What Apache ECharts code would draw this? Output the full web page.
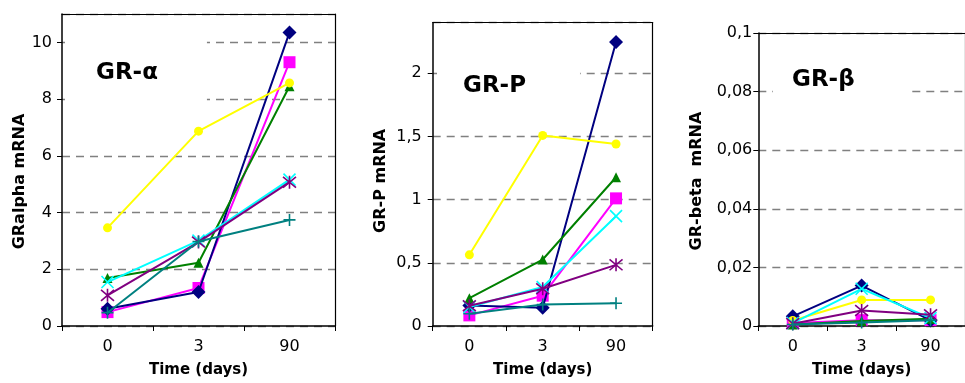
<!DOCTYPE html>
<html>
<head>
<meta charset="utf-8">
<script src="https://cdn.jsdelivr.net/npm/echarts@6/dist/echarts.min.js"></script>
<style>html,body{margin:0;padding:0;background:#fff}#c{width:965px;height:383px}</style>
</head>
<body>
<div id="c"></div>
<script>
// ---- data ----
const categories = ['0', '3', '90'];

// GR-alpha panel
const alphaMagenta = [0.49, 1.34, 9.3];
const alphaNavy    = [0.61, 1.2, 10.35];
const alphaGreen   = [1.69, 2.23, 8.45];
const alphaYellow  = [3.46, 6.87, 8.57];
const alphaCyan    = [1.55, 3.01, 5.16];
const alphaPurple  = [1.08, 2.96, 5.07];
const alphaTeal    = [0.47, 2.98, 3.74];

// GR-P panel
const pMagenta = [0.084, 0.24, 1.01];
const pNavy    = [0.163, 0.145, 2.247];
const pGreen   = [0.22, 0.526, 1.177];
const pYellow  = [0.563, 1.508, 1.44];
const pCyan    = [0.15, 0.308, 0.869];
const pPurple  = [0.16, 0.295, 0.484];
const pTeal    = [0.097, 0.17, 0.18];

// GR-beta panel
const bMagenta = [0.001, 0.002, 0.002];
const bNavy    = [0.0033, 0.0138, 0.0019];
const bGreen   = [0.0005, 0.0017, 0.0025];
const bYellow  = [0.0019, 0.0089, 0.0089];
const bCyan    = [0.001, 0.0127, 0.0027];
const bPurple  = [0.0008, 0.0053, 0.0038];
const bTeal    = [0.0005, 0.0012, 0.002];

const panelTitles = ['GR-α', 'GR-P', 'GR-β'];
const yNames = ['GRalpha mRNA', 'GR-P mRNA', 'GR-beta  mRNA'];
const xName = 'Time (days)';

// ---- styles ----
const FONT = 'DejaVu Sans';
const styles = [
  {color: '#FF00FF', symbol: 'rect', size: 12},
  {color: '#000080', symbol: 'diamond', size: 14},
  {color: '#008000', symbol: 'triangle', size: 10},
  {color: '#FFFF00', symbol: 'circle', size: 9},
  {color: '#00FFFF', symbol: 'path://M0,0L10,10M10,0L0,10', size: 12, stroke: true},
  {color: '#800080', symbol: 'path://M0,0L10,10M10,0L0,10M5,-1L5,11', size: 13, stroke: true},
  {color: '#008080', symbol: 'path://M5,0L5,10M0,5L10,5', size: 12, stroke: true}
];
const panelData = [
  [alphaMagenta, alphaNavy, alphaGreen, alphaYellow, alphaCyan, alphaPurple, alphaTeal],
  [pMagenta, pNavy, pGreen, pYellow, pCyan, pPurple, pTeal],
  [bMagenta, bNavy, bGreen, bYellow, bCyan, bPurple, bTeal]
];

const grids = [
  {left: 62, top: 14, width: 273, height: 313.3},
  {left: 432.7, top: 22.7, width: 220, height: 304.6},
  {left: 758.3, top: 33, width: 219, height: 294.3}
];
const yCfg = [
  {max: 11, interval: 2, showMax: false, margin: 10, nameGap: 34, pad: [0, 23, 0, 0]},
  {max: 2.4, interval: 0.5, showMax: false, margin: 11, nameGap: 44, pad: [0, 13, 0, 0]},
  {max: 0.1, interval: 0.02, showMax: true, margin: 6, nameGap: 53, pad: [0, 3, 0, 0]}
];
const titleBox = [
  {left: 65, top: 35, padding: [27, 49, 23, 31]},
  {left: 437, top: 40, padding: [35, 54, 27, 26]},
  {left: 773, top: 50, padding: [19, 57, 27, 19]}
];

function fmt(v) {
  if (v === 0) return '0';
  return String(Math.round(v * 10000) / 10000).replace('.', ',');
}

const option = {
  animation: false,
  title: panelTitles.map((t, i) => ({
    text: t,
    left: titleBox[i].left,
    top: titleBox[i].top,
    padding: titleBox[i].padding,
    backgroundColor: '#fff',
    textStyle: {fontFamily: FONT, fontWeight: 'bold', fontSize: 23, color: '#000'}
  })),
  grid: grids,
  xAxis: [],
  yAxis: [],
  series: []
};

grids.forEach((g, i) => {
  option.xAxis.push({
    type: 'category', gridIndex: i, data: categories, boundaryGap: true,
    name: xName, nameLocation: 'middle', nameGap: 37,
    nameTextStyle: {fontFamily: FONT, fontWeight: 'bold', fontSize: 15, color: '#000'},
    axisLine: {onZero: false, lineStyle: {color: '#000', width: 1.5}},
    axisTick: {show: true, inside: false, length: 5, lineStyle: {color: '#000', width: 1}},
    axisLabel: {fontFamily: FONT, fontSize: 16, color: '#000', margin: 13},
    splitLine: {show: false},
    z: 1
  });
  // top frame
  option.xAxis.push({
    type: 'category', gridIndex: i, data: categories, position: 'top',
    axisLine: {show: true, onZero: false, lineStyle: {color: '#000', width: 1.2}},
    axisTick: {show: false}, axisLabel: {show: false}, splitLine: {show: false},
    z: 1
  });
  const c = yCfg[i];
  option.yAxis.push({
    type: 'value', gridIndex: i, min: 0, max: c.max, interval: c.interval,
    name: yNames[i], nameLocation: 'middle', nameGap: c.nameGap, nameRotate: 90,
    nameTextStyle: {fontFamily: FONT, fontWeight: 'bold', fontSize: 16, color: '#000', padding: c.pad},
    axisLine: {show: true, onZero: false, lineStyle: {color: '#000', width: 1.5}},
    axisTick: {show: true, inside: false, length: 5, lineStyle: {color: '#000', width: 1}},
    axisLabel: {fontFamily: FONT, fontSize: 16, color: '#000', margin: c.margin,
      showMaxLabel: c.showMax, formatter: fmt},
    splitLine: {show: true, lineStyle: {color: '#808080', width: 1.4, type: [8, 6]}}
  });
  // right frame
  option.yAxis.push({
    type: 'value', gridIndex: i, min: 0, max: c.max, position: 'right',
    axisLine: {show: true, onZero: false, lineStyle: {color: '#000', width: 1.2}},
    axisTick: {show: false}, axisLabel: {show: false}, splitLine: {show: false},
    z: 1
  });
  panelData[i].forEach((arr, k) => {
    const s = styles[k];
    option.series.push({
      type: 'line', xAxisIndex: i * 2, yAxisIndex: i * 2, data: arr,
      symbol: s.symbol, symbolSize: s.size, showSymbol: true,
      lineStyle: {color: s.color, width: 2},
      itemStyle: s.stroke ? {color: s.color, borderColor: s.color, borderWidth: 1.6}
                          : {color: s.color, borderWidth: 0},
      z: 2 + k * 0.01
    });
  });
});

const chart = echarts.init(document.getElementById('c'), null, {renderer: 'canvas'});
chart.setOption(option);
</script>
</body>
</html>
